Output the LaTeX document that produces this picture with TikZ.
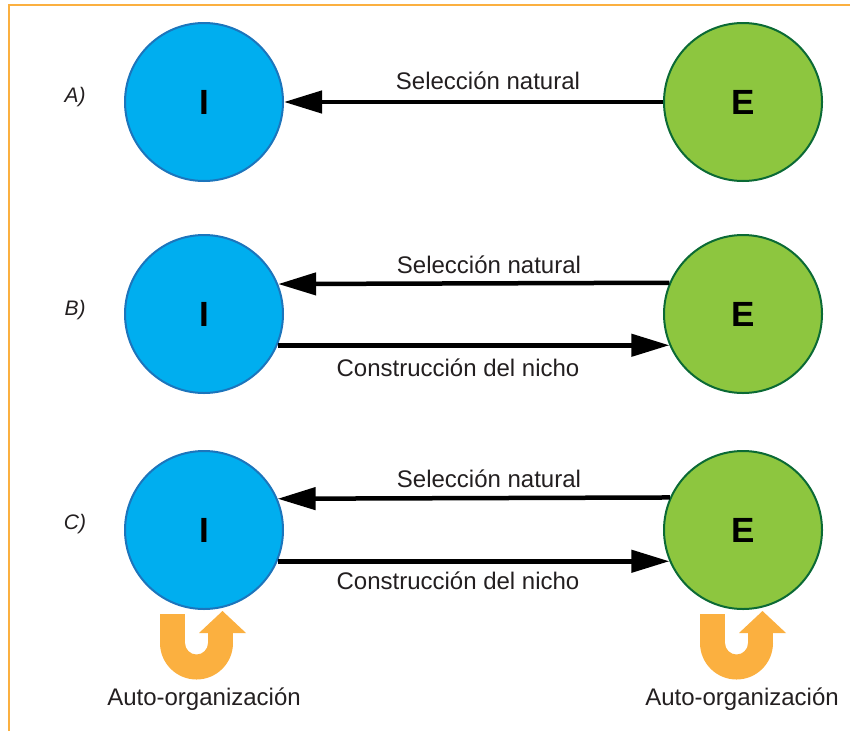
\documentclass[tikz,border=0pt]{standalone}
\usepackage{fontspec}
\setmainfont{Liberation Sans}
\usetikzlibrary{arrows.meta}
\definecolor{iblue}{HTML}{00AEEF}
\definecolor{iblueb}{HTML}{1C75BC}
\definecolor{egreen}{HTML}{8DC63F}
\definecolor{egreenb}{HTML}{0B6A35}
\definecolor{orng}{HTML}{FBB040}
\definecolor{txt}{HTML}{231F20}
\tikzset{
  inode/.style={circle, fill=iblue, draw=iblueb, line width=2pt, minimum size=158pt, inner sep=0pt, font=\fontsize{35}{35}\selectfont\bfseries, text=black},
  enode/.style={circle, fill=egreen, draw=egreenb, line width=2pt, minimum size=158pt, inner sep=0pt, font=\fontsize{35}{35}\selectfont\bfseries, text=black},
  conn/.style={line width=4.5pt, -{Triangle[length=38pt,width=22pt]}},
  lbl/.style={font=\fontsize{24}{24}\selectfont, text=txt, anchor=base, inner sep=0pt},
  rowlbl/.style={font=\fontsize{21}{21}\selectfont\itshape, text=txt, anchor=base, inner sep=0pt},
  selforg/.pic={
    \fill[orng] (-36.5,-29) rectangle (-11.5,0.5);
    \fill[orng] (11.5,-10.5) rectangle (36.5,0.5);
    \begin{scope}
      \clip (-40,0) rectangle (40,40);
      \fill[orng, even odd rule] (0,0) circle[radius=36.5pt] (0,0) circle[radius=11.5pt];
    \end{scope}
    \fill[orng] (2.5,-10) -- (49.5,-10) -- (26,-32) -- cycle;
  }
}
\begin{document}
\begin{tikzpicture}[x=1pt,y=-1pt]
\useasboundingbox (0,0) rectangle (850,731);
\draw[orng, line width=2pt] (9,731) -- (9,5) -- (850,5);

% Row A
\node[rowlbl] (la) at (75,102) {A)};
\node[inode] (iA) at (204,102) {I};
\node[enode] (eA) at (743,102) {E};
\draw[conn] (eA) -- (iA);
\node[lbl] (sA) at (488,89) {Selección natural};

% Row B
\node[rowlbl] (lb) at (75,315) {B)};
\node[inode] (iB) at (204,314) {I};
\node[enode] (eB) at (743,314) {E};
\draw[conn] (eB.157.5) -- (iB.22.5);
\draw[conn] (iB.-23.5) -- (eB.203.5);
\node[lbl] (sB) at (489,273) {Selección natural};
\node[lbl] (cB) at (458,376) {Construcción del nicho};

% Row C
\node[rowlbl] (lc) at (75,529) {C)};
\node[inode] (iC) at (204,530) {I};
\node[enode] (eC) at (743,530) {E};
\draw[conn] (eC.156.5) -- (iC.23.5);
\draw[conn] (iC.-23.5) -- (eC.203.5);
\node[lbl] (sC) at (489,487) {Selección natural};
\node[lbl] (cC) at (458,589) {Construcción del nicho};

% Self-organization
\pic at (196.5,643) {selforg};
\pic at (736.5,643) {selforg};
\node[lbl] (aI) at (204,705) {Auto-organización};
\node[lbl] (aE) at (742,705) {Auto-organización};
\end{tikzpicture}
\end{document}
